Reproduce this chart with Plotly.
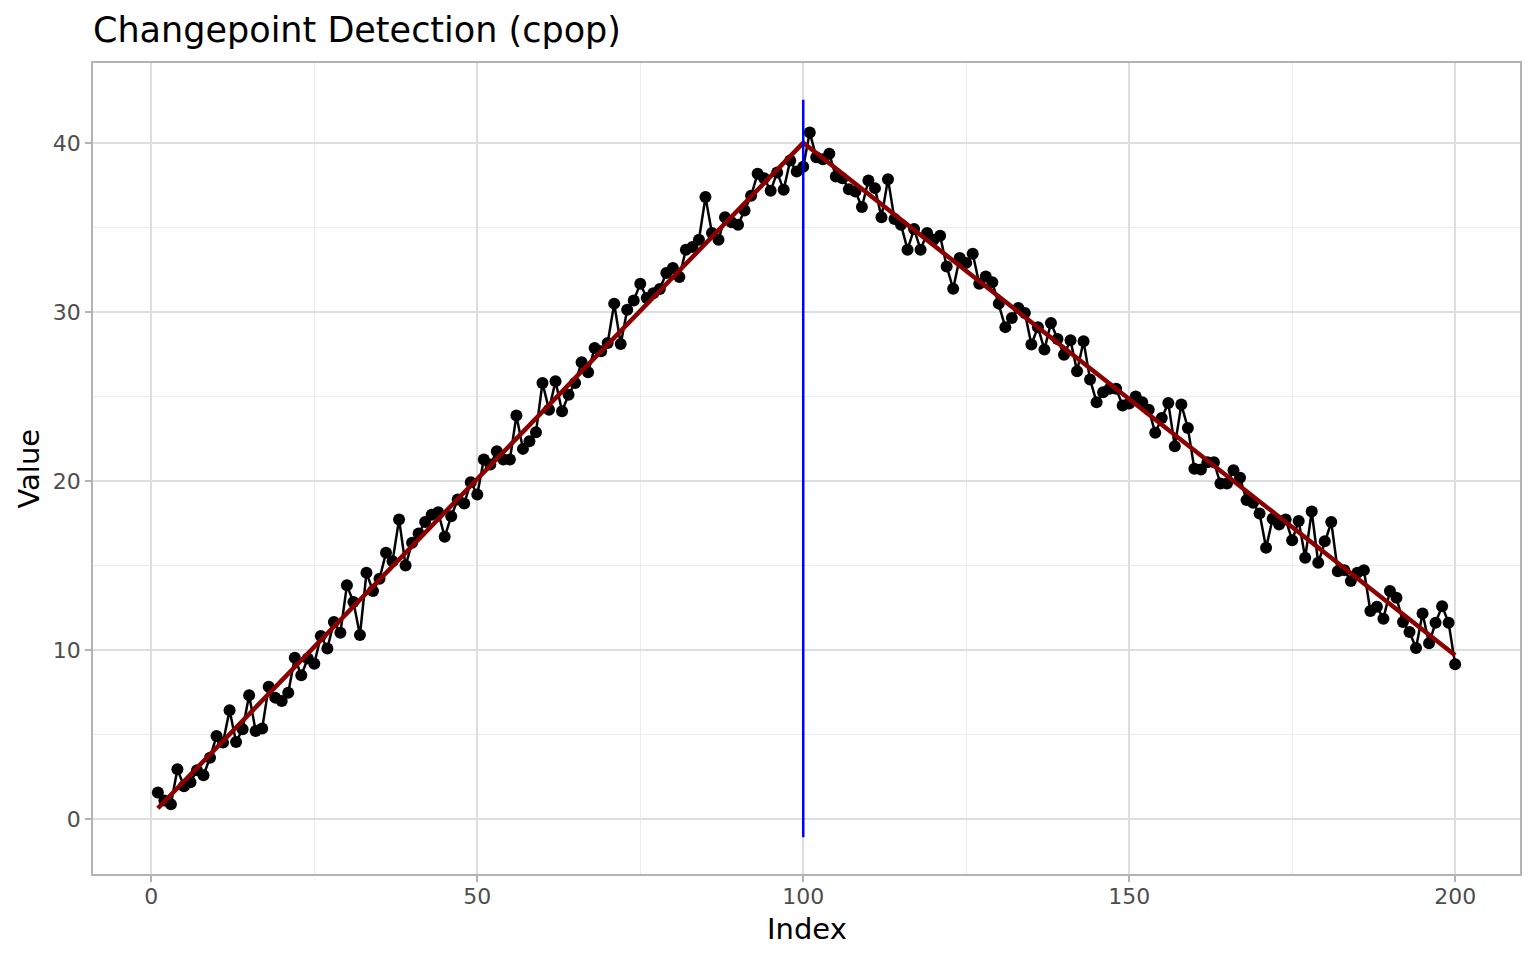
import plotly.graph_objects as go

# ---- data ----
index = list(range(1, 201))
values = [
    1.58, 1.10, 0.89, 2.95, 1.95, 2.19, 2.90, 2.60, 3.64, 4.92,
    4.53, 6.44, 4.57, 5.32, 7.33, 5.22, 5.36, 7.84, 7.19, 6.99,
    7.48, 9.55, 8.51, 9.50, 9.20,
    10.83, 10.10, 11.66, 11.03, 13.83, 12.84, 10.89, 14.57, 13.49, 14.22,
    15.76, 15.26, 17.73, 15.00, 16.35, 16.90, 17.57, 18.00, 18.16, 16.70,
    17.92, 18.90, 18.67, 19.93, 19.20,
    21.27, 20.97, 21.76, 21.27, 21.27, 23.87, 21.90, 22.35, 22.88, 25.80,
    24.22, 25.90, 24.13, 25.10, 25.80, 27.02, 26.43, 27.87, 27.67, 28.16,
    30.49, 28.10, 30.13, 30.68, 31.67,
    30.82, 31.10, 31.35, 32.30, 32.60, 32.06, 33.68, 33.84, 34.27, 36.79,
    34.66, 34.27, 35.60, 35.30, 35.16, 36.00, 36.87, 38.17, 37.91, 37.16,
    38.25, 37.22, 38.95, 38.30, 38.58,
    40.61, 39.15, 39.03, 39.35, 38.01, 37.91, 37.26, 37.12, 36.20, 37.77,
    37.32, 35.60, 37.85, 35.49, 35.16, 33.68, 34.90, 33.68, 34.66, 34.27,
    34.50, 32.69, 31.37, 33.19, 32.90,
    33.44, 31.67, 32.10, 31.75, 30.49, 29.10, 29.64, 30.23, 29.94, 28.07,
    29.10, 27.77, 29.35, 28.40, 27.47, 28.32, 26.49, 28.26, 26.00, 24.66,
    25.25, 25.45, 25.45, 24.46, 24.58,
    25.00, 24.66, 24.22, 22.85, 23.73, 24.62, 22.06, 24.52, 23.14, 20.72,
    20.68, 21.11, 21.11, 19.85, 19.85, 20.63, 20.19, 18.87, 18.71, 18.08,
    16.05, 17.77, 17.43, 17.73, 16.50,
    17.63, 15.46, 18.20, 15.16, 16.44, 17.57, 14.67, 14.73, 14.08, 14.57,
    14.73, 12.31, 12.57, 11.86, 13.49, 13.10, 11.66, 11.07, 10.12, 12.17,
    10.40, 11.62, 12.60, 11.62, 9.16,
]

fit_x = [1, 100, 200]
fit_y = [0.65, 40.0, 9.7]

changepoint = 100
vline_y = [-1.06, 42.54]

x_ticks = [0, 50, 100, 150, 200]
y_ticks = [0, 10, 20, 30, 40]

FONT = "DejaVu Sans"

fig = go.Figure()
fig.add_trace(go.Scatter(
    x=index, y=values, mode="lines+markers",
    line=dict(color="black", width=2.5),
    marker=dict(color="black", size=12),
    showlegend=False, hoverinfo="x+y",
))
fig.add_trace(go.Scatter(
    x=fit_x, y=fit_y, mode="lines",
    line=dict(color="#8B0000", width=4.5),
    showlegend=False,
))
fig.add_trace(go.Scatter(
    x=[changepoint, changepoint], y=vline_y, mode="lines",
    line=dict(color="blue", width=2.5),
    showlegend=False,
))

axis_common = dict(
    showline=True, mirror=True, linecolor="#b3b3b3", linewidth=1.5,
    showgrid=True, gridcolor="#dedede", gridwidth=1.5,
    zeroline=False,
    ticks="outside", ticklen=6, tickcolor="#b3b3b3", tickwidth=1.5,
    tickfont=dict(family=FONT, size=22, color="#4d4d4d"),
)

fig.update_layout(
    width=1536, height=960,
    margin=dict(l=93, r=16, t=63, b=86, autoexpand=False),
    paper_bgcolor="white", plot_bgcolor="white",
    font=dict(family=FONT),
    title=dict(
        text="Changepoint Detection (cpop)",
        font=dict(family=FONT, size=35, color="black"),
        x=93 / 1536, xanchor="left", xref="container",
        y=1 - 30 / 960, yanchor="middle", yref="container",
    ),
    xaxis=dict(
        range=[-8.95, 209.95], tickvals=x_ticks,
        ticktext=[str(v) for v in x_ticks],
        ticklabelstandoff=-4,
        minor=dict(showgrid=True, gridcolor="#ececec", gridwidth=1, dtick=25, tick0=0, ticks=""),
        **axis_common,
    ),
    yaxis=dict(
        range=[-3.24, 44.72], tickvals=y_ticks,
        ticktext=[str(v) for v in y_ticks],
        minor=dict(showgrid=True, gridcolor="#ececec", gridwidth=1, dtick=5, tick0=0, ticks=""),
        **axis_common,
    ),
    annotations=[
        dict(text="Index", x=0.5, y=-(929 - 874) / 811, xref="paper", yref="paper",
             xanchor="center", yanchor="middle", showarrow=False,
             font=dict(family=FONT, size=29, color="black")),
        dict(text="Value", x=(28 - 93) / 1427, y=0.5, xref="paper", yref="paper",
             xanchor="center", yanchor="middle", showarrow=False, textangle=-90,
             font=dict(family=FONT, size=29, color="black")),
    ],
)

fig.write_html("out.html")
